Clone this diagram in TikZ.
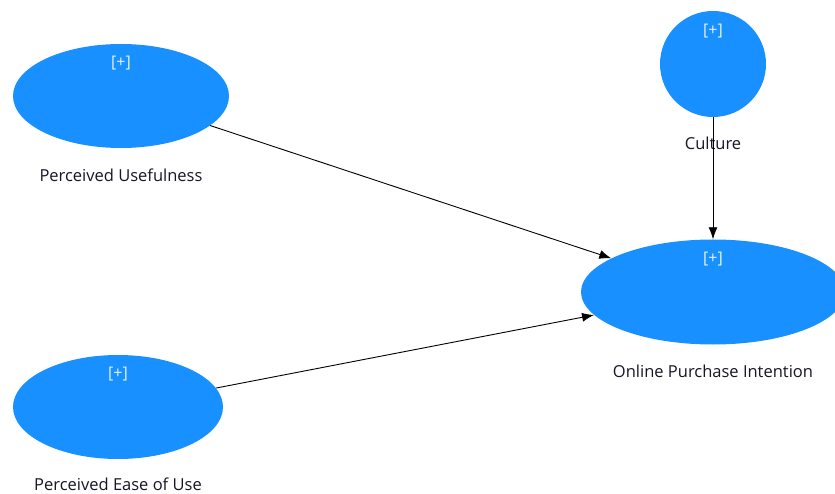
\documentclass[tikz,border=0pt]{standalone}
\usepackage{fontspec}
\setmainfont{Open Sans}
\usetikzlibrary{shapes.geometric, positioning, arrows.meta}
\definecolor{lvblue}{RGB}{24,144,255}
\definecolor{lvtext}{RGB}{25,20,35}

\begin{document}
\begin{tikzpicture}[x=1pt, y=1pt, node distance=79pt, on grid, >={Latex[length=12pt,width=9pt]}]
        \tikzset{latent/.style={ellipse, fill=lvblue, inner sep=0pt, label={[plus]center:[+]}},
                 plus/.style={text=white!88!lvblue, yshift=33pt, font=\fontsize{16}{18}\selectfont}}
        \tikzstyle{lvname}=[text=lvtext, inner sep=1pt, font=\fontsize{16.5}{19}\selectfont]
        \useasboundingbox (0,0) rectangle (835,-494);

        \node[latent, minimum width=216pt, minimum height=104pt] (pu) at (121,-96) {};
        \node[latent, minimum width=210pt, minimum height=104pt] (peou) [below left=311pt and 3pt of pu] {};
        \node[latent, minimum width=264pt, minimum height=105pt] (opi) [below right=196pt and 592pt of pu] {};
        \node[latent, minimum width=106pt, minimum height=106pt] (cul) [above=228pt of opi] {};

        \node[lvname] (pu-t) [below=of pu] {Perceived Usefulness};
        \node[lvname] (peou-t) [below=77pt of peou] {Perceived Ease of Use};
        \node[lvname] (opi-t) [below=of opi] {Online Purchase Intention};
        \node[lvname] (cul-t) [below=of cul] {Culture};

        \path[->, black, line width=0.9pt]
        (pu) edge (opi)
        (peou) edge (opi)
        (cul) edge (opi);
    \end{tikzpicture}
\end{document}
